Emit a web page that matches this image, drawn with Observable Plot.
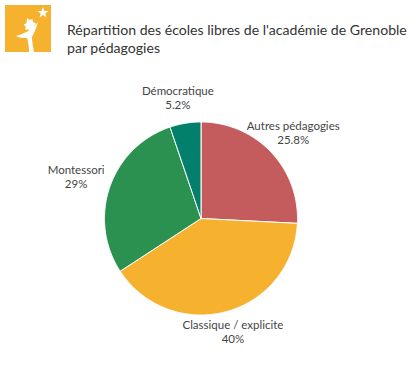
<!DOCTYPE html>
<html>
<head>
<meta charset="utf-8">
<script src="https://cdn.jsdelivr.net/npm/d3@7"></script>
<script src="https://cdn.jsdelivr.net/npm/@observablehq/plot@0.6"></script>
<style>
  html, body { margin: 0; padding: 0; background: #fff; }
  #wrap { position: relative; width: 416px; height: 365px; overflow: hidden; font-family: Lato, "Open Sans", sans-serif; }
  #logo { position: absolute; left: 5px; top: 5px; }
  #title { position: absolute; left: 67px; top: 21px; font-size: 14.1px; line-height: 18px; color: #333; white-space: nowrap; }
  #chart { position: absolute; left: 0; top: 70px; }
</style>
</head>
<body>
<div id="wrap">
  <svg id="logo" width="46" height="47" viewBox="0 0 46 47">
    <rect width="46" height="47" fill="#F6B22F"/>
    <polygon points="38,2 39.5,6 43.5,6 40.3,8.5 41.5,12.5 38,10 34.5,12.5 35.7,8.5 32.5,6 36.5,6" fill="#fff"/>
    <path d="M22,13 l2.5,2 3,-1 0.5,3 3,1.5 -2,2.5 1,3 -3,0.3 -1.8,2.5 -2,-2.3 -3,0.2 0.5,-3 -2,-2.3 2.8,-1.2z" fill="#fff"/>
    <path d="M11,31 C18,29 26,26 33,17 C31,24 29,28 27,32 C27,37 28,41 29,47 L24,47 C24,41 23,37 22,33 C18,33 14,33 11,31z" fill="#fff"/>
  </svg>
  <div id="title">Répartition des écoles libres de l'académie de Grenoble<br>par pédagogies</div>
  <div id="chart"></div>
</div>
<script>
// Data (share in %)
const categories = ["Autres pédagogies", "Classique / explicite", "Montessori", "Démocratique"];
const shares = [25.8, 40, 29, 5.2];
const shareLabels = ["25.8%", "40%", "29%", "5.2%"];
const colors = ["#C45B5C", "#F6B22F", "#2A9150", "#02806B"];

const W = 416, H = 295;
const R = 96.5;

const pie = d3.pie().sort(null).value(d => d.share)(
  categories.map((name, i) => ({name, share: shares[i], label: shareLabels[i]}))
);

// Slice outlines, sampled along each arc (angles from the top, clockwise)
const slicePoints = [];
for (const s of pie) {
  const n = Math.max(4, Math.ceil((s.endAngle - s.startAngle) / 0.01));
  slicePoints.push({name: s.data.name, x: 0, y: 0});
  for (let k = 0; k <= n; k++) {
    const a = s.startAngle + (s.endAngle - s.startAngle) * k / n;
    slicePoints.push({name: s.data.name, x: R * Math.sin(a), y: R * Math.cos(a)});
  }
  slicePoints.push({name: s.data.name, x: 0, y: 0});
}

const labels = pie.map(s => {
  const a = (s.startAngle + s.endAngle) / 2;
  return {name: s.data.name, text: s.data.name + "\n" + s.data.label, x: -2 + 130 * Math.sin(a), y: 3 + 120 * Math.cos(a)};
});

const chart = Plot.plot({
  width: W,
  height: H,
  margin: 0,
  x: {domain: [-200.5, W - 200.5], axis: null},
  y: {domain: [-147, H - 147], axis: null},
  color: {domain: categories, range: colors},
  style: {fontFamily: "Lato, 'Open Sans', sans-serif", background: "#fff"},
  marks: [
    Plot.line(slicePoints, {x: "x", y: "y", z: "name", fill: "name", stroke: "#fff", strokeWidth: 1, curve: "linear"}),
    Plot.text(labels, {x: "x", y: "y", text: "text", fill: "#444", fontSize: 11.5, lineHeight: 1.22})
  ]
});
document.getElementById("chart").appendChild(chart);
</script>
</body>
</html>
